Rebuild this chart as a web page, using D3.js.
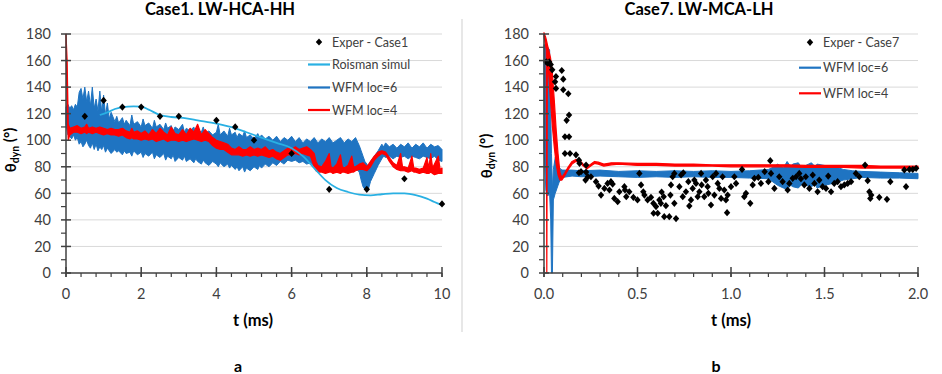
<!DOCTYPE html>
<html><head><meta charset="utf-8">
<script src="https://cdn.jsdelivr.net/npm/d3@7"></script>
<style>body{margin:0;background:#fff}svg{display:block;font-family:Lato,"Open Sans",sans-serif}</style>
</head><body>
<svg id="c" width="942" height="374"></svg>
<script>
// ---------- data ----------
const yTicks = [0,20,40,60,80,100,120,140,160,180];
const xTicksA = [0,2,4,6,8,10];
const xTicksB = [0,0.5,1.0,1.5,2.0];
const titles = ["Case1. LW-HCA-HH","Case7. LW-MCA-LH"];
const panelLabels = ["a","b"];
const xTitle = "t (ms)";
const legendA = ["Exper - Case1","Roisman simul","WFM loc=6","WFM loc=4"];
const legendB = ["Exper - Case7","WFM loc=6","WFM loc=4"];

// Case1 experiment [t, theta]
const exprA = [[0.5,118],[1.0,130],[1.5,125],[2.0,125],[2.5,118],[3.0,118],[4.0,115],[4.5,110],[5.0,100],[6.0,90],[7.0,63],[8.0,63],[9.0,71],[10.0,52]];
// Roisman simulation [t, theta]
const roismanA = [[0.9,119],[1.1,121],[1.3,123.5],[1.5,125],[1.8,125.5],[2.0,125.3],[2.2,123],[2.5,119],[2.8,117.5],[3.2,116.5],[3.5,115],[4.0,112.5],[4.5,109],[4.8,106],[5.2,102],[5.6,98],[6.0,94],[6.3,88],[6.6,79],[6.9,70],[7.2,64],[7.5,61],[7.8,59],[8.1,58.5],[8.4,59.3],[8.7,60],[9.0,60],[9.3,58.7],[9.6,56],[9.8,53.5],[10.0,51]];
// WFM loc=6, Case1 [t, min, max]
const wfm6A = [[0,112,125],[0.05,104,127],[0.1,103,124],[0.15,101,126],[0.2,104,123],[0.25,100,127],[0.3,102,125],[0.35,97,136],[0.4,99,139],[0.45,95,131],[0.5,97,140],[0.55,100,129],[0.6,96,137],[0.65,94,126],[0.7,98,140],[0.75,93,124],[0.8,97,131],[0.85,92,122],[0.9,95,137],[0.95,93,121],[1.0,96,134],[1.05,91,119],[1.1,94,128],[1.15,92,116],[1.2,90,121],[1.3,93,114],[1.35,91,118],[1.4,92,113],[1.5,89,117],[1.55,92,112],[1.6,90,115],[1.7,91,111],[1.75,88,119],[1.8,92,112],[1.9,89,114],[2.0,91,110],[2.05,87,116],[2.1,90,111],[2.2,88,113],[2.3,91,109],[2.35,86,115],[2.4,89,110],[2.5,87,112],[2.6,90,108],[2.65,85,113],[2.7,88,109],[2.8,86,111],[2.85,89,107],[2.9,84,110],[3.0,87,108],[3.1,85,112],[3.15,88,106],[3.2,84,109],[3.3,86,107],[3.4,83,110],[3.45,86,105],[3.5,84,108],[3.6,82,106],[3.65,85,110],[3.7,83,105],[3.8,81,107],[3.9,84,104],[4.0,82,106],[4.05,80,112],[4.1,83,104],[4.2,80,107],[4.3,82,103],[4.35,79,109],[4.4,81,104],[4.5,78,106],[4.55,80,102],[4.6,77,105],[4.7,80,103],[4.75,76,107],[4.8,79,102],[4.9,77,104],[5.0,80,101],[5.1,78,105],[5.15,81,102],[5.2,79,104],[5.3,82,101],[5.4,80,103],[5.5,83,100],[5.6,81,103],[5.7,84,99],[5.8,82,102],[5.9,85,100],[6.0,84,103],[6.1,85,99],[6.2,83,102],[6.3,84,98],[6.4,82,101],[6.5,83,99],[6.6,80,102],[6.7,79,98],[6.8,81,101],[6.9,78,99],[7.0,80,102],[7.1,79,98],[7.2,81,100],[7.3,78,102],[7.4,80,98],[7.5,79,101],[7.6,81,99],[7.7,79,102],[7.8,76,96],[7.85,70,92],[7.9,65,88],[7.95,63,84],[8.0,62,82],[8.05,64,80],[8.1,69,84],[8.2,75,88],[8.3,81,92],[8.4,86,97],[8.45,88,95],[8.5,87,98],[8.6,88,95],[8.7,86,97],[8.8,88,94],[8.9,87,97],[9.0,88,95],[9.1,86,98],[9.2,88,94],[9.3,87,97],[9.4,86,95],[9.5,88,98],[9.6,87,94],[9.7,86,97],[9.8,88,95],[9.9,85,96],[10.0,84,93]];
// WFM loc=4, Case1 [t, min, max]
const wfm4A = [[0,178,180],[0.03,120,160],[0.06,100,112],[0.1,104,109],[0.2,106,110],[0.3,106,111],[0.4,105,109],[0.5,106,110],[0.55,105,112],[0.6,106,109],[0.7,105,110],[0.8,106,109],[0.9,105,110],[1.0,104,109],[1.1,105,108],[1.2,104,109],[1.3,104,108],[1.4,103,108],[1.5,104,109],[1.6,102,107],[1.7,101,106],[1.75,102,109],[1.8,101,106],[1.9,101,107],[2.0,100,105],[2.1,101,107],[2.2,100,104],[2.3,101,108],[2.4,99,105],[2.5,100,109],[2.6,101,106],[2.7,99,104],[2.8,100,110],[2.9,100,105],[3.0,99,104],[3.1,100,108],[3.2,99,104],[3.3,100,109],[3.4,101,106],[3.5,100,112],[3.6,99,104],[3.7,100,108],[3.8,99,105],[3.9,96,102],[4.0,94,100],[4.1,93,99],[4.2,93,98],[4.3,91,97],[4.4,89,94],[4.5,89,93],[4.6,89,95],[4.7,88,93],[4.8,89,93],[4.9,88,95],[5.0,89,93],[5.1,88,94],[5.2,89,93],[5.3,88,95],[5.4,87,92],[5.5,88,93],[5.6,86,91],[5.7,85,90],[5.8,87,92],[5.9,89,94],[6.0,89,93],[6.1,90,95],[6.2,89,93],[6.3,90,94],[6.4,89,95],[6.5,88,93],[6.6,80,90],[6.65,77,84],[6.7,76,81],[6.8,76,80],[6.9,75,84],[7.0,76,90],[7.05,76,80],[7.1,75,79],[7.2,76,82],[7.3,75,89],[7.35,76,80],[7.4,76,79],[7.5,75,81],[7.6,76,88],[7.65,76,80],[7.7,77,80],[7.8,78,82],[7.9,78,83],[8.0,77,80],[8.1,80,84],[8.2,85,88],[8.3,88,91],[8.4,90,92],[8.5,89,91],[8.6,84,87],[8.7,80,83],[8.8,78,81],[8.9,77,90],[8.95,77,80],[9.0,77,80],[9.1,76,79],[9.2,77,88],[9.25,76,79],[9.3,76,79],[9.4,75,78],[9.5,76,79],[9.6,75,87],[9.65,75,79],[9.7,76,90],[9.75,75,79],[9.8,74,82],[9.9,75,88],[9.95,75,78],[10.0,75,79]];

// Case7 experiment [t, theta]
const exprB = [[0.012,159],[0.02,158],[0.028,159],[0.036,157],[0.044,153],[0.059,144],[0.064,148],[0.064,139],[0.095,152.5],[0.103,146],[0.103,138],[0.13,135],[0.134,119],[0.121,115],[0.112,102.6],[0.134,102.6],[0.112,90],[0.139,90],[0.171,89],[0.187,85],[0.19,82.6],[0.187,75.5],[0.198,76.3],[0.225,81.3],[0.225,76],[0.222,70],[0.235,72.5],[0.251,72.5],[0.278,68.8],[0.292,65.5],[0.305,58.7],[0.323,63.7],[0.34,67.5],[0.358,68.8],[0.367,67],[0.35,62.5],[0.376,56.2],[0.394,53.7],[0.403,61.2],[0.43,65],[0.433,62.5],[0.44,57.5],[0.456,61.2],[0.478,57],[0.51,75],[0.519,66.3],[0.531,61.2],[0.5,55],[0.537,58.7],[0.554,55],[0.572,57],[0.585,52.5],[0.599,50],[0.586,45],[0.608,45],[0.617,55],[0.629,61],[0.625,52.5],[0.64,57.5],[0.652,50.7],[0.643,42.4],[0.67,42.4],[0.679,66.3],[0.676,58.7],[0.688,72.5],[0.697,75],[0.697,52.5],[0.706,41],[0.724,65],[0.733,73.8],[0.745,75.5],[0.742,57.5],[0.759,61.2],[0.772,68.8],[0.777,50.5],[0.786,55],[0.795,63.7],[0.804,70],[0.813,67.5],[0.822,57.5],[0.831,61.2],[0.84,75],[0.843,66.3],[0.857,57.5],[0.866,70],[0.875,65],[0.879,60],[0.893,51.2],[0.902,72.5],[0.911,58.7],[0.92,75],[0.929,67.5],[0.938,63.7],[0.947,56.2],[0.955,72.5],[0.964,62.5],[0.973,55],[0.979,45.4],[0.982,58.7],[1.0,65],[1.018,72.5],[1.027,67.5],[1.059,78],[1.071,57.5],[1.08,60],[1.103,52.5],[1.116,66.3],[1.125,71.3],[1.146,72],[1.16,67.5],[1.18,76.3],[1.2,68.8],[1.21,84.6],[1.214,75],[1.232,63.7],[1.258,72.5],[1.276,68.8],[1.303,62.5],[1.312,67.5],[1.33,71.3],[1.348,72.5],[1.365,75],[1.374,71],[1.392,66.3],[1.4,72.5],[1.419,63.7],[1.437,73.8],[1.446,67.5],[1.463,61.2],[1.472,70],[1.49,65],[1.508,63.7],[1.52,73],[1.535,61.2],[1.552,67.5],[1.57,68.8],[1.588,65],[1.606,66.3],[1.624,67.5],[1.642,68.8],[1.668,75],[1.686,72.5],[1.717,81.3],[1.731,69.5],[1.74,61.2],[1.745,56.2],[1.75,58.7],[1.793,57],[1.834,55.5],[1.852,68.8],[1.927,77.6],[1.936,65],[1.954,78],[1.972,78],[1.99,78.8]];
// WFM loc=6, Case7 [t, min, max]
const wfm6B = [[0,95,172],[0.01,62,171],[0.02,58,170],[0.03,60,168],[0.036,40,120],[0.04,0,90],[0.045,0,62],[0.05,55,78],[0.06,60,87],[0.07,64,84],[0.08,68,80],[0.09,71,78],[0.1,72,77.5],[0.15,73,77.5],[0.2,72.5,77],[0.3,73,77.5],[0.4,72.5,76.5],[0.5,72,77],[0.6,72.5,76.5],[0.7,72,77],[0.8,72.5,76.5],[0.9,72,77],[1.0,72,76.5],[1.1,71.5,77],[1.2,71,78],[1.23,68,80],[1.25,66,82],[1.28,64,79],[1.3,63,84],[1.32,66,80],[1.33,65,82],[1.36,64,83],[1.38,67,79],[1.4,66,81],[1.43,65,83],[1.45,67,80],[1.46,64,82],[1.5,66,81],[1.53,67,80],[1.56,68,80],[1.6,70,78],[1.65,71,77],[1.7,72,76.5],[1.8,71.5,76],[1.9,71.5,75.5],[2.0,71,75]];
// WFM loc=4, Case7 [t, min, max]
const wfm4B = [[0,178,181],[0.008,172,178],[0.012,168,176],[0.015,0,174],[0.018,160,172],[0.025,150,168],[0.035,130,162],[0.045,110,150],[0.055,95,130],[0.065,82,108],[0.075,74,90],[0.085,70,76],[0.095,70,72],[0.11,73,75],[0.13,78,80],[0.15,82,84],[0.17,84,85.5],[0.19,83.5,85],[0.21,80.5,82],[0.23,78.5,80],[0.25,80.5,82],[0.27,82.5,84],[0.29,82,83.5],[0.32,80.5,82],[0.36,81.5,83],[0.4,82,83],[0.5,81,82.5],[0.6,81,82.5],[0.7,80.5,82],[0.8,80.5,82],[0.9,80.5,81.5],[1.0,80,81.5],[1.1,80,81.5],[1.2,80,81.5],[1.3,80,81.5],[1.4,79.5,81],[1.5,79.5,81],[1.6,79.5,81],[1.7,79,81],[1.8,79,80.5],[1.9,79,80.5],[2.0,79,80.5]];

// ---------- styling ----------
const C_EXP = "#000000", C_ROIS = "#29b0e3", C_W6 = "#1f74c2", C_W4 = "#ff0000";
const TXT = "#404040", GRID = "#d9d9d9", AXIS = "#404040";

const svg = d3.select("#c");
const diamond = "M0,-3.6L3.2,0L0,3.6L-3.2,0Z";

function panel(o) {
  const x = d3.scaleLinear().domain(o.xDomain).range([o.x0, o.x1]);
  const y = d3.scaleLinear().domain([0,180]).range([273, 34]);
  const g = svg.append("g");
  g.selectAll(".grid").data(yTicks.slice(1)).join("line")
    .attr("x1", o.x0).attr("x2", o.x1).attr("y1", d=>y(d)).attr("y2", d=>y(d))
    .attr("stroke", GRID).attr("stroke-width", 1);
  const area = d3.area().x(d=>x(d[0])).y0(d=>y(d[1])).y1(d=>y(d[2]));
  g.append("path").datum(o.w6).attr("d", area).attr("fill", C_W6).attr("stroke", C_W6).attr("stroke-width", 1).attr("stroke-linejoin","round");
  g.append("path").datum(o.w4).attr("d", area).attr("fill", C_W4).attr("stroke", C_W4).attr("stroke-width", 1.2).attr("stroke-linejoin","round");
  if (o.rois) {
    const line = d3.line().x(d=>x(d[0])).y(d=>y(d[1])).curve(d3.curveMonotoneX);
    g.append("path").datum(o.rois).attr("d", line).attr("fill","none").attr("stroke", C_ROIS).attr("stroke-width", 1.8);
  }
  g.selectAll(".pt").data(o.exp).join("path")
    .attr("d", diamond).attr("transform", d=>`translate(${x(d[0])},${y(d[1])})`).attr("fill", C_EXP);
  // axes
  g.append("line").attr("x1", o.x0).attr("x2", o.x0).attr("y1", y(180)).attr("y2", y(0)).attr("stroke", AXIS).attr("stroke-width", 1.5);
  g.append("line").attr("x1", o.x0).attr("x2", o.x1).attr("y1", y(0)).attr("y2", y(0)).attr("stroke", AXIS).attr("stroke-width", 1.5);
  const yMinor = d3.range(10, 180, 20);
  g.selectAll(".ymin").data(yMinor).join("line").attr("x1", o.x0-5).attr("x2", o.x0).attr("y1", d=>y(d)).attr("y2", d=>y(d)).attr("stroke", AXIS).attr("stroke-width", 1.2);
  g.selectAll(".ymaj").data(yTicks).join("line").attr("x1", o.x0-5).attr("x2", o.x0+5).attr("y1", d=>y(d)).attr("y2", d=>y(d)).attr("stroke", AXIS).attr("stroke-width", 1.5);
  const xMinor = d3.range(0, o.nMinor+1).map(i => o.xDomain[0] + i*(o.xDomain[1]-o.xDomain[0])/o.nMinor);
  g.selectAll(".xmin").data(xMinor).join("line").attr("x1", d=>x(d)).attr("x2", d=>x(d)).attr("y1", y(0)).attr("y2", y(0)+4).attr("stroke", AXIS).attr("stroke-width", 1.2);
  g.selectAll(".xmaj").data(o.xTicks).join("line").attr("x1", d=>x(d)).attr("x2", d=>x(d)).attr("y1", y(0)-6).attr("y2", y(0)+4).attr("stroke", AXIS).attr("stroke-width", 1.5);
  g.selectAll(".yl").data(yTicks).join("text").attr("x", o.x0-15).attr("y", d=>y(d)).attr("dy","0.36em")
    .attr("text-anchor","end").attr("font-size", 14.5).attr("fill", TXT).text(d=>d);
  g.selectAll(".xl").data(o.xTicks).join("text").attr("x", d=>x(d)).attr("y", 299)
    .attr("text-anchor","middle").attr("font-size", 14.5).attr("fill", TXT).text(o.fmt);
  g.append("text").attr("x", o.titleX).attr("y", 15).attr("text-anchor","middle").attr("font-size", 16.5).attr("font-weight","bold").attr("fill","#000").text(o.title);
  g.append("text").attr("x", o.xLabX).attr("y", 326).attr("text-anchor","middle").attr("font-size", 16.5).attr("font-weight","bold").attr("fill","#000").text(xTitle);
  g.append("text").attr("x", o.xLabX - 15).attr("y", 372).attr("text-anchor","middle").attr("font-size", 16).attr("font-weight","bold").attr("fill","#000").text(o.panelLabel);
  const yl = g.append("text").attr("transform", `translate(${o.yLabX},${o.yLabY}) rotate(-90)`).attr("text-anchor","middle")
    .attr("font-size", 15).attr("font-weight","bold").attr("fill","#000").attr("dy","0.35em");
  yl.append("tspan").text("θ");
  yl.append("tspan").attr("font-size", 10.5).attr("dy", "0.3em").text("dyn");
  yl.append("tspan").attr("dy", "-0.3em").text(" (°)");
  const lg = g.append("g");
  o.legend.forEach((name, i) => {
    const ly = o.legY[i];
    const kind = o.legKinds[i];
    if (kind.type === "pt") lg.append("path").attr("d", diamond).attr("transform", `translate(${o.legX0 + (o.legX1-o.legX0)/2},${ly})`).attr("fill", kind.color);
    else lg.append("line").attr("x1", o.legX0).attr("x2", o.legX1).attr("y1", ly).attr("y2", ly).attr("stroke", kind.color).attr("stroke-width", 2.2);
    lg.append("text").attr("x", o.legTx).attr("y", ly).attr("dy","0.36em").attr("font-size", 12.5).attr("fill", TXT).text(name);
  });
}

panel({xDomain:[0,10], x0:66, x1:442, xTicks:xTicksA, nMinor:25, fmt:d=>d, exp:exprA, rois:roismanA, w6:wfm6A, w4:wfm4A,
  title:titles[0], titleX:220, xLabX:253, panelLabel:panelLabels[0], yLabX:11, yLabY:150,
  legend:legendA, legY:[42,64.5,87.5,110], legX0:308, legX1:330, legTx:332,
  legKinds:[{type:"pt",color:C_EXP},{type:"ln",color:C_ROIS},{type:"ln",color:C_W6},{type:"ln",color:C_W4}]});
panel({xDomain:[0,2], x0:544, x1:918, xTicks:xTicksB, nMinor:20, fmt:d=>d.toFixed(1), exp:exprB, w6:wfm6B, w4:wfm4B,
  title:titles[1], titleX:699, xLabX:731, panelLabel:panelLabels[1], yLabX:487, yLabY:156,
  legend:legendB, legY:[42.3,67.7,93.3], legX0:799, legX1:821, legTx:823,
  legKinds:[{type:"pt",color:C_EXP},{type:"ln",color:C_W6},{type:"ln",color:C_W4}]});

svg.append("line").attr("x1", 462).attr("x2", 462).attr("y1", 19).attr("y2", 332).attr("stroke", "#cfcfcf").attr("stroke-width", 1);
</script>
</body></html>
